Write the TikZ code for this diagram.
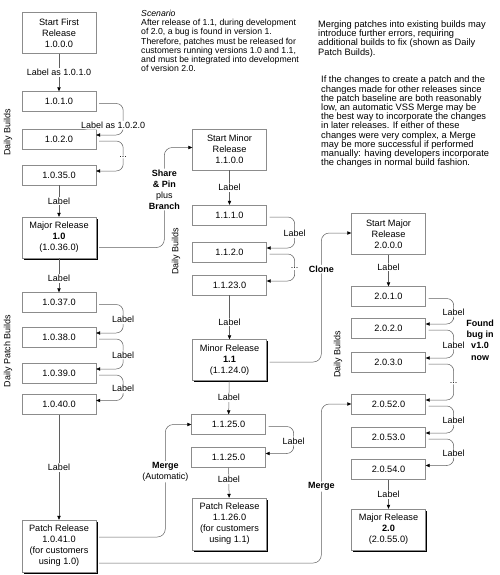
\documentclass[tikz,border=0pt]{standalone}
\usepackage{fontspec}
\setmainfont{Liberation Sans}
\usetikzlibrary{arrows.meta, shadows, calc}

\definecolor{BoxGray}{RGB}{140, 140, 140}
\definecolor{LineGray}{RGB}{95, 95, 95}

\tikzset{
  build/.style={draw=BoxGray, fill=white, minimum width=74pt, minimum height=20pt, inner sep=1pt, align=center, font=\fontsize{9.2}{11}\selectfont},
  startbox/.style={build, minimum height=41pt},
  release/.style={build, minimum height=41pt, drop shadow={shadow xshift=1.6pt, shadow yshift=-1.6pt, fill=black, opacity=1}},
  patchrel/.style={release, minimum height=52pt},
  conn/.style={draw=LineGray, line width=0.5pt, -{Triangle[length=4pt, width=3.4pt, color=black]}},
  lbl/.style={fill=white, inner sep=1pt, align=center, font=\fontsize{9}{11}\selectfont},
  note/.style={align=center, inner sep=1pt, font=\fontsize{9}{11.3}\selectfont\bfseries},
  sidelabel/.style={rotate=90, inner sep=0pt, font=\fontsize{9}{11}\selectfont},
  para/.style={anchor=north west, align=left, inner sep=0pt, font=\fontsize{9.3}{9.2}\selectfont},
}

\begin{document}
\begin{tikzpicture}[x=1pt, y=-1pt]
  \useasboundingbox (0,0) rectangle (500,575);

  % Notes
  \node[para, font=\fontsize{8.7}{9.2}\selectfont] (scen) at (141,10) {\textit{Scenario}\\After release of 1.1, during development\\of 2.0, a bug is found in version 1.\\Therefore, patches must be released for\\customers running versions 1.0 and 1.1,\\and must be integrated into development\\of version 2.0.};
  \node[para] (merge1) at (318,20.5) {Merging patches into existing builds may\\introduce further errors, requiring\\additional builds to fix (shown as Daily\\Patch Builds).};
  \node[para] (merge2) at (321,76) {If the changes to create a patch and the\\changes made for other releases since\\the patch baseline are both reasonably\\low, an automatic VSS Merge may be\\the best way to incorporate the changes\\in later releases. If either of these\\changes were very complex, a Merge\\may be more successful if performed\\manually: having developers incorporate\\the changes in normal build fashion.};
  \node[note] (found) at (480,340) {Found\\bug in\\v1.0\\now};

  % Side labels
  \node[sidelabel] (daily1) at (8,132) {Daily Builds};
  \node[sidelabel] (patchb) at (8,351) {Daily Patch Builds};
  \node[sidelabel] (daily2) at (176,251) {Daily Builds};
  \node[sidelabel] (daily3) at (338,354) {Daily Builds};

  % Version 1.0
  \node[startbox] (sfr) at (59,33) {Start First\\Release\\1.0.0.0};
  \node[build] (b1010) at (59,101.5) {1.0.1.0};
  \node[build] (b1020) at (59,139) {1.0.2.0};
  \node[build] (b1035) at (59,175) {1.0.35.0};
  \node[release] (maj10) at (59,237.5) {Major Release\\\textbf{1.0}\\(1.0.36.0)};
  \node[build] (b1037) at (59,302.5) {1.0.37.0};
  \node[build] (b1038) at (59,337) {1.0.38.0};
  \node[build] (b1039) at (59,373) {1.0.39.0};
  \node[build] (b1040) at (59,404.5) {1.0.40.0};
  \node[patchrel] (pr10) at (59,546) {Patch Release\\1.0.41.0\\(for customers\\using 1.0)};

  % Version 1.1
  \node[startbox] (smr) at (229.5,149.5) {Start Minor\\Release\\1.1.0.0};
  \node[build] (b1110) at (229.5,215) {1.1.1.0};
  \node[build] (b1120) at (229.5,252) {1.1.2.0};
  \node[build] (b1123) at (229.5,285) {1.1.23.0};
  \node[release] (mr11) at (229.5,360) {Minor Release\\\textbf{1.1}\\(1.1.24.0)};
  \node[build] (b1125) at (228.5,424.5) {1.1.25.0};
  \node[build] (b1125b) at (228.5,457.5) {1.1.25.0};
  \node[patchrel] (pr11) at (229.5,524) {Patch Release\\1.1.26.0\\(for customers\\using 1.1)};

  % Version 2.0
  \node[startbox] (smj) at (388.5,234) {Start Major\\Release\\2.0.0.0};
  \node[build] (b2010) at (388.5,296.5) {2.0.1.0};
  \node[build] (b2020) at (388.5,328) {2.0.2.0};
  \node[build] (b2030) at (388.5,362) {2.0.3.0};
  \node[build] (b2052) at (388.5,404) {2.0.52.0};
  \node[build] (b2053) at (388.5,437) {2.0.53.0};
  \node[build] (b2054) at (388.5,469.5) {2.0.54.0};
  \node[release] (maj20) at (388.5,529.5) {Major Release\\\textbf{2.0}\\(2.0.55.0)};

  % Straight labels
  \draw[conn] (sfr) -- node[lbl] (l1010) {Label as 1.0.1.0} (b1010);
  \draw[conn] (b1035) -- node[lbl] (l1036) {Label} (maj10);
  \draw[conn] (maj10) -- node[lbl, pos=0.59] (l1037) {Label} (b1037);
  \draw[conn] (b1040) -- node[lbl] (l1041) {Label} (pr10);
  \draw[conn] (smr) -- node[lbl] (l1110) {Label} (b1110);
  \draw[conn] (b1123) -- node[lbl, pos=0.61] (l1124) {Label} (mr11);
  \draw[conn] (mr11) -- node[lbl] (l1125) {Label} (b1125);
  \draw[conn] (b1125b) -- node[lbl, pos=0.4] (l1126) {Label} (pr11);
  \draw[conn] (smj) -- node[lbl, pos=0.39] (l2010) {Label} (b2010);
  \draw[conn] (b2054) -- node[lbl] (l2055) {Label} (maj20);

  % Daily labels
  \draw[conn, rounded corners=7pt] ($(b1010.east)+(3,2)$) -| ($(b1010.east)!.5!(b1020.east)+(27,0)$) node[lbl, xshift=-10pt, yshift=-5pt] (l1020) {Label as 1.0.2.0} |- ($(b1020.east)+(0,-4)$);
  \draw[conn, rounded corners=7pt] ($(b1020.east)+(3,2)$) -| ($(b1020.east)!.5!(b1035.east)+(27,0)$) node[lbl] (d1035) {...} |- ($(b1035.east)+(0,-4)$);
  \draw[conn, rounded corners=7pt] ($(b1037.east)+(3,2)$) -| ($(b1037.east)!.5!(b1038.east)+(27,0)$) node[lbl] (l1038) {Label} |- ($(b1038.east)+(0,-4)$);
  \draw[conn, rounded corners=7pt] ($(b1038.east)+(3,2)$) -| ($(b1038.east)!.5!(b1039.east)+(27,0)$) node[lbl] (l1039) {Label} |- ($(b1039.east)+(0,-4)$);
  \draw[conn, rounded corners=7pt] ($(b1039.east)+(3,2)$) -| ($(b1039.east)!.5!(b1040.east)+(27,0)$) node[lbl] (l1040) {Label} |- ($(b1040.east)+(0,-4)$);

  \draw[conn, rounded corners=7pt] ($(b1110.east)+(3,2)$) -| ($(b1110.east)!.5!(b1120.east)+(28,0)$) node[lbl] (l1120) {Label} |- ($(b1120.east)+(0,-4)$);
  \draw[conn, rounded corners=7pt] ($(b1120.east)+(3,2)$) -| ($(b1120.east)!.5!(b1123.east)+(28,0)$) node[lbl] (d1123) {...} |- ($(b1123.east)+(0,-4)$);
  \draw[conn, rounded corners=7pt] ($(b1125.east)+(3,2)$) -| ($(b1125.east)!.5!(b1125b.east)+(28,0)$) node[lbl] (l1125b) {Label} |- ($(b1125b.east)+(0,-4)$);

  \draw[conn, rounded corners=7pt] ($(b2010.east)+(3,2)$) -| ($(b2010.east)!.5!(b2020.east)+(28,0)$) node[lbl] (l2020) {Label} |- ($(b2020.east)+(0,-4)$);
  \draw[conn, rounded corners=7pt] ($(b2020.east)+(3,2)$) -| ($(b2020.east)!.5!(b2030.east)+(28,0)$) node[lbl] (l2030) {Label} |- ($(b2030.east)+(0,-4)$);
  \draw[conn, rounded corners=7pt] ($(b2030.east)+(3,2)$) -| ($(b2030.east)!.5!(b2052.east)+(28,0)$) node[lbl] (d2052) {...} |- ($(b2052.east)+(0,-4)$);
  \draw[conn, rounded corners=7pt] ($(b2052.east)+(3,2)$) -| ($(b2052.east)!.5!(b2053.east)+(28,0)$) node[lbl] (l2053) {Label} |- ($(b2053.east)+(0,-4)$);
  \draw[conn, rounded corners=7pt] ($(b2053.east)+(3,2)$) -| ($(b2053.east)!.5!(b2054.east)+(28,0)$) node[lbl] (l2054) {Label} |- ($(b2054.east)+(0,-4)$);

  % Branching and merging
  \draw[conn, rounded corners=8pt] ($(maj10.east)+(3,10)$) -| node[lbl, pos=0.79] (share) {\textbf{Share}\\\textbf{\& Pin}\\plus\\\textbf{Branch}} ($(smr.west)+(-28,-2)$) -- ($(smr.west)+(0,-2)$);
  \draw[conn, rounded corners=8pt] ($(mr11.east)+(3,2)$) -| node[lbl, pos=0.86] (clone) {\textbf{Clone}} ($(smj.west)+(-30,-1)$) -- ($(smj.west)+(0,-1)$);
  \draw[conn, rounded corners=8pt] ($(pr10.east)+(3,-9)$) -| node[lbl, pos=0.79] (automerge) {\textbf{Merge}\\(Automatic)} ($(b1125.west)+(-26,0)$) -- (b1125.west);
  \draw[conn, rounded corners=8pt] ($(pr10.east)+(3,17)$) -| node[lbl, pos=0.74] (merge) {\textbf{Merge}} ($(b2052.west)+(-30,0)$) -- (b2052.west);
\end{tikzpicture}
\end{document}
